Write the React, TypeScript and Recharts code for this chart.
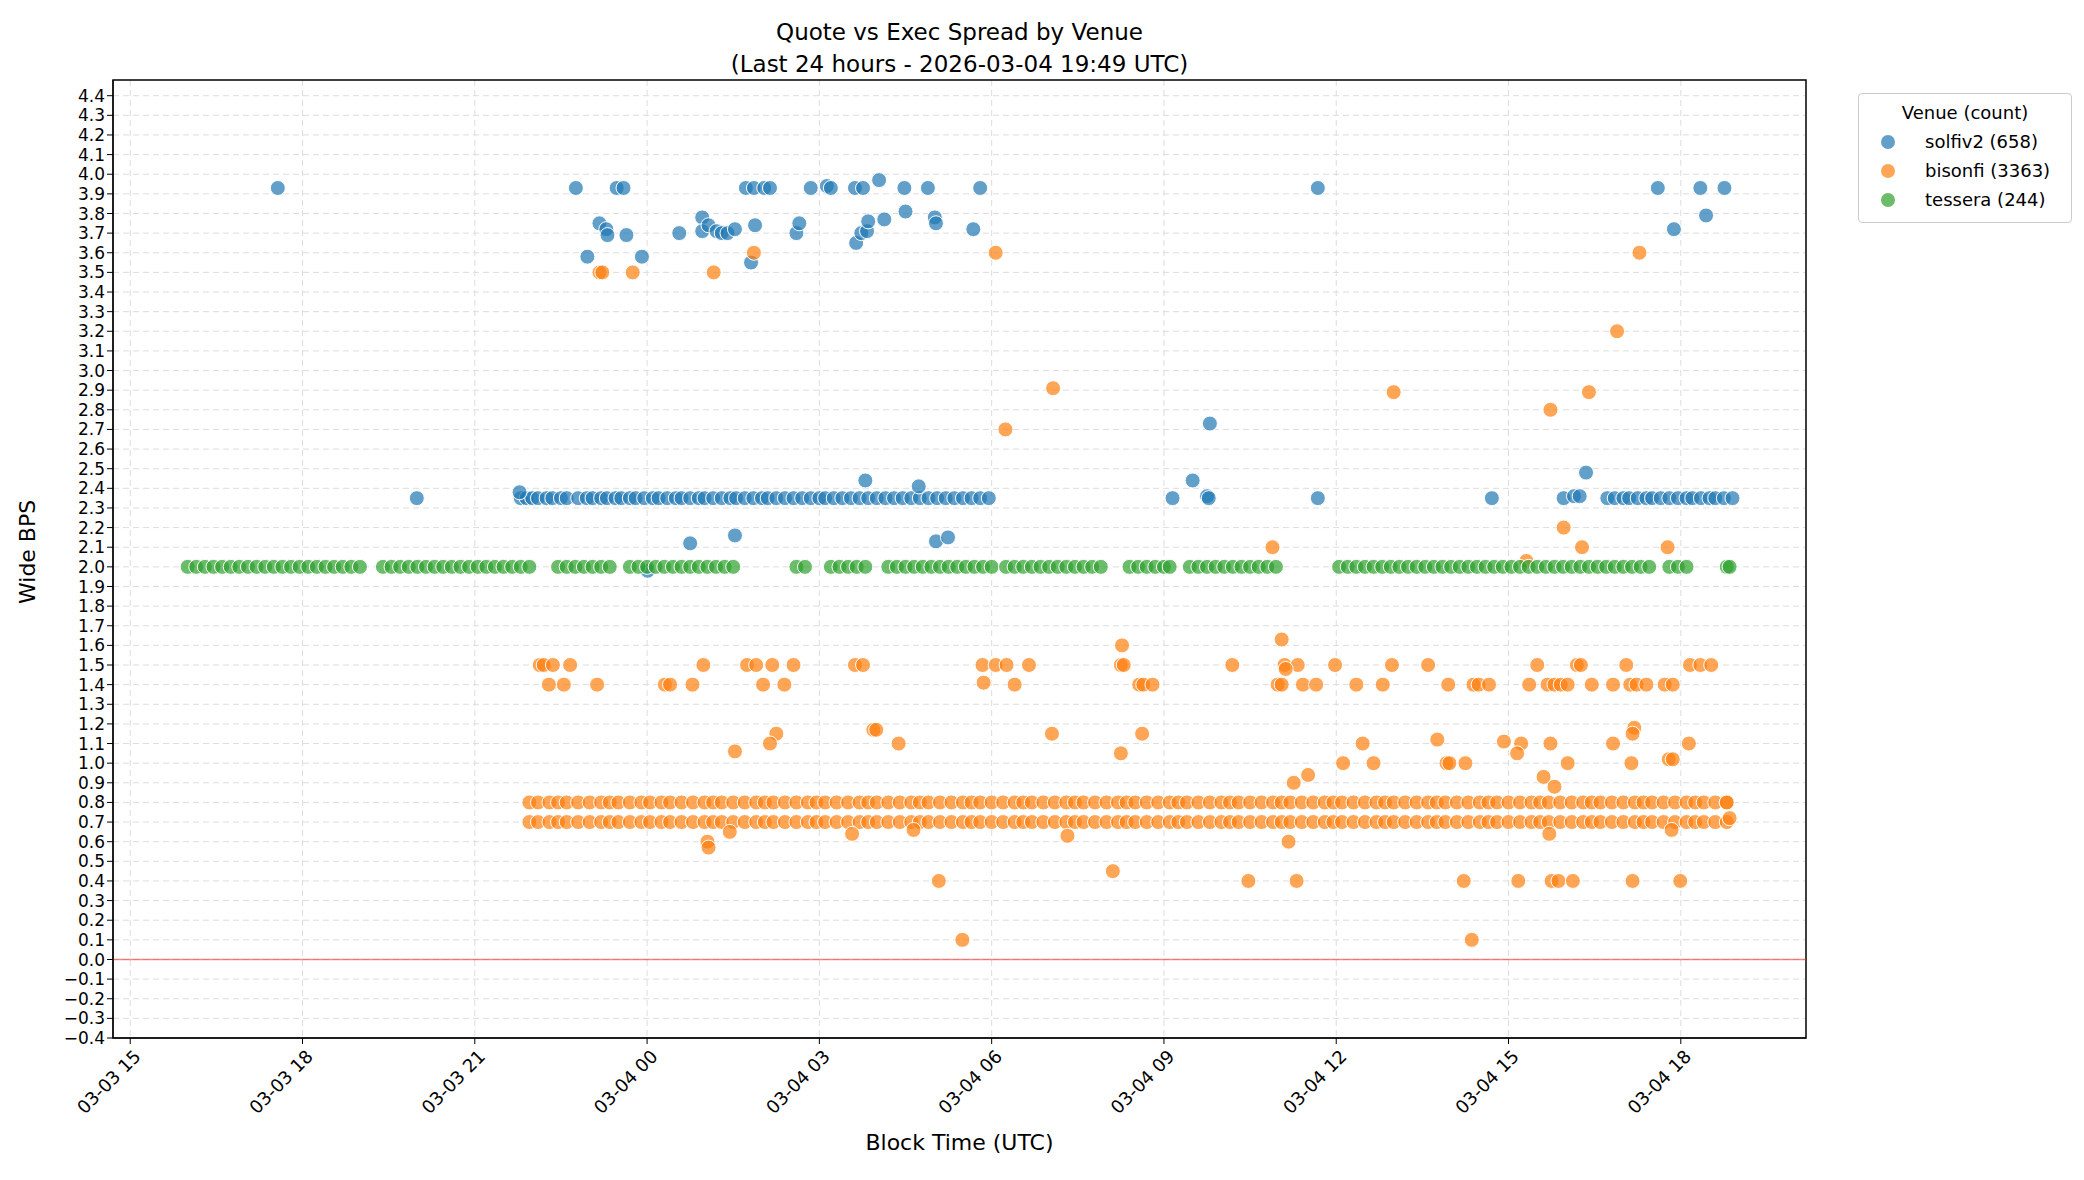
import {
  ScatterChart,
  Scatter,
  XAxis,
  YAxis,
  CartesianGrid,
  ReferenceLine,
  ReferenceArea,
} from "recharts";

// x = hours since 2026-03-03 00:00 UTC
const xTicks = [15, 18, 21, 24, 27, 30, 33, 36, 39, 42];
const xTickLabels = ["03-03 15", "03-03 18", "03-03 21", "03-04 00", "03-04 03", "03-04 06", "03-04 09", "03-04 12", "03-04 15", "03-04 18"];
const yTicks = Array.from({ length: 49 }, (_, i) => Math.round((-0.4 + i * 0.1) * 10) / 10);

const solfivOutliers: [number, number][] = [
  [17.57, 3.93], [22.76, 3.93], [23.47, 3.93], [23.59, 3.93], [23.17, 3.75], [23.29, 3.72], [23.31, 3.69],
  [23.64, 3.69], [22.96, 3.58], [23.91, 3.58], [24.56, 3.7], [24.96, 3.78], [24.96, 3.71], [25.07, 3.74],
  [25.21, 3.71], [25.3, 3.7], [25.4, 3.7], [25.53, 3.72], [25.72, 3.93], [25.86, 3.93], [26.04, 3.93],
  [26.14, 3.93], [25.81, 3.55], [25.88, 3.74], [26.6, 3.7], [26.65, 3.75], [26.85, 3.93], [27.13, 3.94],
  [27.2, 3.93], [27.62, 3.93], [27.76, 3.93], [27.64, 3.65], [27.73, 3.7], [27.83, 3.71], [27.85, 3.76],
  [28.04, 3.97], [28.13, 3.77], [28.48, 3.93], [28.5, 3.81], [28.89, 3.93], [29.01, 3.78], [29.03, 3.75],
  [29.68, 3.72], [29.8, 3.93], [24.01, 1.98], [24.75, 2.12], [25.53, 2.16], [29.03, 2.13], [29.24, 2.15],
  [28.73, 2.41], [27.8, 2.44], [21.78, 2.38], [19.99, 2.35], [33.15, 2.35], [33.5, 2.44], [33.75, 2.36],
  [33.8, 2.73], [33.78, 2.35], [35.68, 3.93], [35.68, 2.35], [38.71, 2.35], [39.96, 2.35], [40.35, 2.48],
  [40.14, 2.36], [40.24, 2.36], [41.6, 3.93], [41.88, 3.72], [42.34, 3.93], [42.44, 3.79], [42.76, 3.93],
];
const solfivBandTimes = [
  21.8, 21.9, 22.0, 22.1, 22.25, 22.35, 22.5, 22.6, 22.8, 22.95, 23.05, 23.2, 23.3, 23.45, 23.55, 23.7,
  23.8, 23.95, 24.1, 24.2, 24.35, 24.5, 24.6, 24.75, 24.9, 25.0, 25.15, 25.3, 25.45, 25.55, 25.7, 25.85,
  26.0, 26.1, 26.25, 26.4, 26.55, 26.7, 26.85, 27.0, 27.1, 27.25, 27.4, 27.55, 27.7, 27.85, 28.0, 28.15,
  28.3, 28.45, 28.6, 28.75, 28.9, 29.05, 29.2, 29.35, 29.5, 29.65, 29.8, 29.95,
  40.72, 40.85, 41.0, 41.1, 41.25, 41.4, 41.5, 41.65, 41.8, 41.95, 42.1, 42.2, 42.35, 42.5, 42.6, 42.75, 42.9,
];

const bisonfiOutliers: [number, number][] = [
  [23.17, 3.5], [23.22, 3.5], [23.75, 3.5], [25.16, 3.5], [25.86, 3.6], [30.07, 3.6], [30.24, 2.7],
  [31.07, 2.91], [37.0, 2.89], [39.73, 2.8], [40.4, 2.89], [40.89, 3.2], [41.28, 3.6], [39.96, 2.2],
  [40.28, 2.1], [41.77, 2.1], [34.89, 2.1], [39.31, 2.03],
  [22.13, 1.5], [22.2, 1.5], [22.36, 1.5], [22.66, 1.5], [24.98, 1.5], [25.74, 1.5], [25.9, 1.5],
  [26.18, 1.5], [26.55, 1.5], [27.62, 1.5], [27.76, 1.5], [29.84, 1.5], [30.07, 1.5], [30.26, 1.5],
  [30.65, 1.5], [32.25, 1.5], [32.3, 1.5], [34.19, 1.5], [35.1, 1.5], [35.33, 1.5], [35.98, 1.5],
  [36.97, 1.5], [37.6, 1.5], [39.5, 1.5], [40.19, 1.5], [40.26, 1.5], [41.05, 1.5], [42.16, 1.5],
  [42.34, 1.5], [42.53, 1.5],
  [22.29, 1.4], [22.55, 1.4], [23.13, 1.4], [24.31, 1.4], [24.4, 1.4], [24.79, 1.4], [26.02, 1.4],
  [26.39, 1.4], [29.86, 1.41], [30.4, 1.4], [32.57, 1.4], [32.64, 1.4], [32.8, 1.4], [34.98, 1.4],
  [35.05, 1.4], [35.42, 1.4], [35.65, 1.4], [36.35, 1.4], [36.81, 1.4], [37.95, 1.4], [38.39, 1.4],
  [38.48, 1.4], [38.66, 1.4], [39.36, 1.4], [39.68, 1.4], [39.8, 1.4], [39.91, 1.4], [40.03, 1.4],
  [40.45, 1.4], [40.82, 1.4], [41.12, 1.4], [41.23, 1.4], [41.4, 1.4], [41.72, 1.4], [41.86, 1.4],
  [32.27, 1.6], [35.05, 1.63], [35.12, 1.48], [26.25, 1.15], [26.14, 1.1], [27.94, 1.17], [27.99, 1.17],
  [28.38, 1.1], [25.53, 1.06], [31.05, 1.15], [32.25, 1.05], [32.62, 1.15], [36.12, 1.0], [36.46, 1.1],
  [36.65, 1.0], [37.76, 1.12], [37.92, 1.0], [37.97, 1.0], [38.25, 1.0], [38.92, 1.11], [39.22, 1.1],
  [39.15, 1.05], [39.73, 1.1], [40.03, 1.0], [40.82, 1.1], [41.19, 1.18], [41.16, 1.15], [41.14, 1.0],
  [41.79, 1.02], [41.86, 1.02], [42.14, 1.1], [35.51, 0.94], [35.26, 0.9], [39.61, 0.93], [39.8, 0.88],
  [29.08, 0.4], [34.47, 0.4], [35.31, 0.4], [38.22, 0.4], [39.17, 0.4], [39.75, 0.4], [39.87, 0.4],
  [40.12, 0.4], [41.16, 0.4], [41.99, 0.4], [29.49, 0.1], [38.36, 0.1], [32.11, 0.45], [25.05, 0.6],
  [25.07, 0.57], [25.44, 0.65], [27.57, 0.64], [28.64, 0.66], [31.32, 0.63], [35.17, 0.6], [39.71, 0.64],
  [41.84, 0.66], [42.85, 0.72], [42.8, 0.8],
];
const bisonfiBandTimes = [
  21.95, 22.1, 22.3, 22.45, 22.6, 22.8, 23.0, 23.2, 23.35, 23.5, 23.7, 23.9, 24.05, 24.25, 24.4, 24.6,
  24.8, 25.0, 25.15, 25.3, 25.5, 25.7, 25.9, 26.05, 26.2, 26.4, 26.6, 26.8, 26.95, 27.1, 27.3, 27.5,
  27.7, 27.85, 28.0, 28.2, 28.4, 28.6, 28.75, 28.9, 29.1, 29.3, 29.5, 29.65, 29.8, 30.0, 30.2, 30.4,
  30.55, 30.7, 30.9, 31.1, 31.3, 31.45, 31.6, 31.8, 32.0, 32.2, 32.35, 32.5, 32.7, 32.9, 33.1, 33.25,
  33.4, 33.6, 33.8, 34.0, 34.15, 34.3, 34.5, 34.7, 34.9, 35.05, 35.2, 35.4, 35.6, 35.8, 35.95, 36.1,
  36.3, 36.5, 36.7, 36.85, 37.0, 37.2, 37.4, 37.6, 37.75, 37.9, 38.1, 38.3, 38.5, 38.65, 38.8, 39.0,
  39.2, 39.4, 39.55, 39.7, 39.9, 40.1, 40.3, 40.45, 40.6, 40.8, 41.0, 41.2, 41.35, 41.5, 41.7, 41.9,
  42.1, 42.25, 42.4, 42.6, 42.8,
];
const bisonfiBandLevels = [0.7, 0.8];

const tesseraTimes = [
  16.0, 16.15, 16.3, 16.45, 16.6, 16.75, 16.9, 17.05, 17.2, 17.35, 17.5, 17.65, 17.8, 17.95, 18.1, 18.25,
  18.4, 18.55, 18.7, 18.85, 19.0, 19.4, 19.55, 19.7, 19.85, 20.0, 20.15, 20.3, 20.45, 20.6, 20.75, 20.9,
  21.05, 21.2, 21.35, 21.5, 21.65, 21.8, 21.95, 22.45, 22.6, 22.75, 22.9, 23.05, 23.2, 23.35, 23.7,
  23.85, 24.0, 24.15, 24.3, 24.45, 24.6, 24.75, 24.9, 25.05, 25.2, 25.35, 25.5, 26.6, 26.75, 27.2,
  27.35, 27.5, 27.65, 27.8, 28.2, 28.35, 28.5, 28.65, 28.8, 28.95, 29.1, 29.25, 29.4, 29.55, 29.7,
  29.85, 30.0, 30.25, 30.4, 30.55, 30.7, 30.85, 31.0, 31.15, 31.3, 31.45, 31.6, 31.75, 31.9, 32.4,
  32.55, 32.7, 32.85, 33.0, 33.1, 33.45, 33.6, 33.75, 33.9, 34.05, 34.2, 34.35, 34.5, 34.65, 34.8,
  34.95, 36.05, 36.2, 36.35, 36.5, 36.65, 36.8, 36.95, 37.1, 37.25, 37.4, 37.55, 37.7, 37.85, 38.0,
  38.15, 38.3, 38.45, 38.6, 38.75, 38.9, 39.05, 39.2, 39.35, 39.5, 39.65, 39.8, 39.95, 40.1, 40.25,
  40.4, 40.55, 40.7, 40.85, 41.0, 41.15, 41.3, 41.45, 41.8, 41.95, 42.1, 42.8, 42.85,
];

const venues = [
  { name: "solfiv2 (658)", color: "#1f77b4" },
  { name: "bisonfi (3363)", color: "#ff7f0e" },
  { name: "tessera (244)", color: "#2ca02c" },
];

const solfivData = [
  ...solfivBandTimes.map((x) => ({ x, y: 2.35 })),
  ...solfivOutliers.map(([x, y]) => ({ x, y })),
];
const bisonfiData = [
  ...bisonfiBandLevels.flatMap((lv) => bisonfiBandTimes.map((x) => ({ x, y: lv }))),
  ...bisonfiOutliers.map(([x, y]) => ({ x, y })),
];
const tesseraData = tesseraTimes.map((x) => ({ x, y: 2.0 }));

const X_DOMAIN: [number, number] = [14.7, 44.18];
const Y_DOMAIN: [number, number] = [-0.4, 4.48];
const font = "DejaVu Sans, sans-serif";

const Dot = (color: string) => (props: any) => (
  <circle cx={props.cx} cy={props.cy} r={7.5} fill={color} fillOpacity={0.7} stroke="#fff" strokeWidth={1} />
);

const XTick = (props: any) => {
  const { x, y, payload } = props;
  const i = xTicks.indexOf(payload.value);
  return (
    <g transform={`translate(${x + 6},${y + 6})`}>
      <text textAnchor="end" transform="rotate(-45)" fontSize={18} fontFamily={font} fill="#000" dy={8}>
        {xTickLabels[i]}
      </text>
    </g>
  );
};

export default function App() {
  return (
    <div style={{ position: "relative", width: 2068, height: 1164, fontFamily: font, background: "#fff" }}>
      <div style={{ position: "absolute", left: 105, width: 1693, top: 8, textAlign: "center", fontSize: 23, lineHeight: "32px" }}>
        Quote vs Exec Spread by Venue
        <br />
        (Last 24 hours - 2026-03-04 19:49 UTC)
      </div>
      <ScatterChart width={2068} height={1164} margin={{ top: 72, right: 270, bottom: 0, left: 45 }}>
        <CartesianGrid stroke="#ddd" strokeDasharray="6 4" verticalValues={xTicks} horizontalValues={yTicks} />
        <XAxis
          type="number"
          dataKey="x"
          domain={X_DOMAIN}
          ticks={xTicks}
          tick={<XTick />}
          height={134}
          stroke="#000"
          tickSize={6}
          allowDataOverflow
          label={{ value: "Block Time (UTC)", position: "insideBottom", offset: 22, fontSize: 22, fill: "#000" }}
        />
        <YAxis
          type="number"
          dataKey="y"
          domain={Y_DOMAIN}
          ticks={yTicks}
          interval={0}
          width={60}
          stroke="#000"
          tickSize={6}
          allowDataOverflow
          tickFormatter={(v: number) => v.toFixed(1).replace("-", "\u2212")}
          tick={{ fontSize: 17, fill: "#000", fontFamily: font }}
          label={{ value: "Wide BPS", angle: -90, position: "insideLeft", offset: -26, fontSize: 22, fill: "#000", dy: 45 }}
        />
        <ReferenceArea x1={X_DOMAIN[0]} x2={X_DOMAIN[1]} y1={Y_DOMAIN[0]} y2={Y_DOMAIN[1]} fill="none" stroke="#000" strokeWidth={1.5} ifOverflow="extendDomain" />
        <ReferenceLine y={0} stroke="#e33" strokeOpacity={0.6} strokeWidth={1.5} />
        <Scatter data={solfivData} shape={Dot(venues[0].color)} isAnimationActive={false} />
        <Scatter data={bisonfiData} shape={Dot(venues[1].color)} isAnimationActive={false} />
        <Scatter data={tesseraData} shape={Dot(venues[2].color)} isAnimationActive={false} />
      </ScatterChart>
      <div
        style={{
          position: "absolute",
          left: 1850,
          top: 85,
          width: 214,
          border: "1px solid #ccc",
          borderRadius: 4,
          padding: "8px 10px",
          fontSize: 18,
          boxSizing: "border-box",
        }}
      >
        <div style={{ textAlign: "center", marginBottom: 4 }}>Venue (count)</div>
        {venues.map((v) => (
          <div key={v.name} style={{ display: "flex", alignItems: "center", height: 29 }}>
            <span style={{ width: 14, height: 14, borderRadius: 7, background: v.color, opacity: 0.7, marginLeft: 12, marginRight: 30 }} />
            {v.name}
          </div>
        ))}
      </div>
    </div>
  );
}
